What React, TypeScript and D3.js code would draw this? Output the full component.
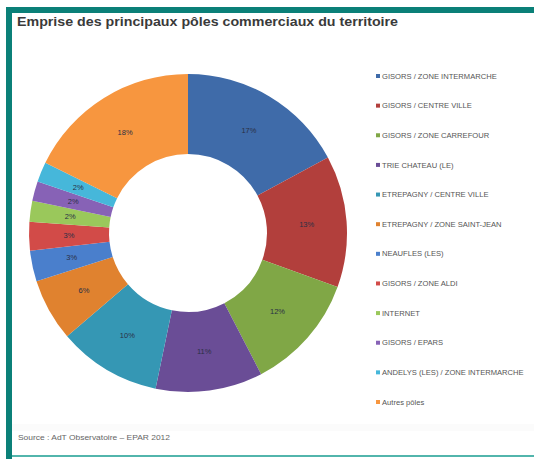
import React from "react";
import * as d3 from "d3";

const categories = [
  "GISORS / ZONE INTERMARCHE",
  "GISORS / CENTRE VILLE",
  "GISORS / ZONE CARREFOUR",
  "TRIE CHATEAU (LE)",
  "ETREPAGNY / CENTRE VILLE",
  "ETREPAGNY / ZONE SAINT-JEAN",
  "NEAUFLES (LES)",
  "GISORS / ZONE ALDI",
  "INTERNET",
  "GISORS / EPARS",
  "ANDELYS (LES) / ZONE INTERMARCHE",
  "Autres pôles",
];
const values = [17.0, 13.3, 11.8, 10.8, 10.4, 6.3, 3.1, 2.9, 2.1, 2.0, 2.0, 17.6];
const colors = [
  "#3f6ba9", "#b23f3c", "#80a746", "#6a4d96", "#3597b4", "#e0822f",
  "#4a7fcc", "#d24b48", "#9ac85b", "#8762b6", "#46b7da", "#f7963f",
];

const W = 534;
const H = 459;
const cx = 188;
const cy = 233;
const rOuter = 159;
const rInner = 79;

export default function App() {
  const total = d3.sum(values);
  const pie = d3.pie<number>().sort(null).value((d) => d);
  const arcs = pie(values);
  const arc = d3.arc<d3.PieArcDatum<number>>().innerRadius(rInner).outerRadius(rOuter);
  const labelArc = d3
    .arc<d3.PieArcDatum<number>>()
    .innerRadius((rInner + rOuter) / 2)
    .outerRadius((rInner + rOuter) / 2);
  const legendY = d3.scaleLinear().domain([0, categories.length - 1]).range([76, 402]);

  return (
    <svg
      width={W}
      height={H}
      style={{ position: "absolute", left: 0, top: 0, background: "#fff" }}
      fontFamily="'Liberation Sans', Arial, sans-serif"
    >
      <rect x={0} y={0} width={W} height={H} fill="#fff" />
      {/* frame */}
      <rect x={6} y={7} width={W - 6} height={6} fill="#0b8078" />
      <rect x={6} y={7} width={6} height={H - 7} fill="#0b8078" />
      <rect x={12} y={455} width={W - 12} height={2} fill="#52b5ac" />
      <rect x={12} y={424} width={W - 12} height={7} fill="#fbfbfb" />
      <text
        x={17}
        y={26}
        fontSize={13.5}
        fontWeight="bold"
        fill="#3a3a3a"
        textLength={381}
        lengthAdjust="spacingAndGlyphs"
      >
        Emprise des principaux pôles commerciaux du territoire
      </text>

      <g transform={`translate(${cx},${cy})`}>
        {arcs.map((a, i) => (
          <path key={i} d={arc(a) || ""} fill={colors[i]} />
        ))}
        {arcs.map((a, i) => {
          const [lx, ly] = labelArc.centroid(a);
          return (
            <text
              key={i}
              x={lx}
              y={ly}
              dy="0.35em"
              textAnchor="middle"
              fontSize={7.5}
              fill="#2a2f45"
            >
              {Math.round((a.data / total) * 100)}%
            </text>
          );
        })}
      </g>

      {categories.map((c, i) => (
        <g key={c} transform={`translate(376,${legendY(i)})`}>
          <rect x={0} y={-2} width={4} height={4} fill={colors[i]} />
          <text x={6} y={0} dy="0.35em" fontSize={7.6} fill="#555">
            {c}
          </text>
        </g>
      ))}

      <text x={18} y={440} fontSize={7.5} fill="#666" textLength={152} lengthAdjust="spacingAndGlyphs">
        Source : AdT Observatoire – EPAR 2012
      </text>
    </svg>
  );
}
